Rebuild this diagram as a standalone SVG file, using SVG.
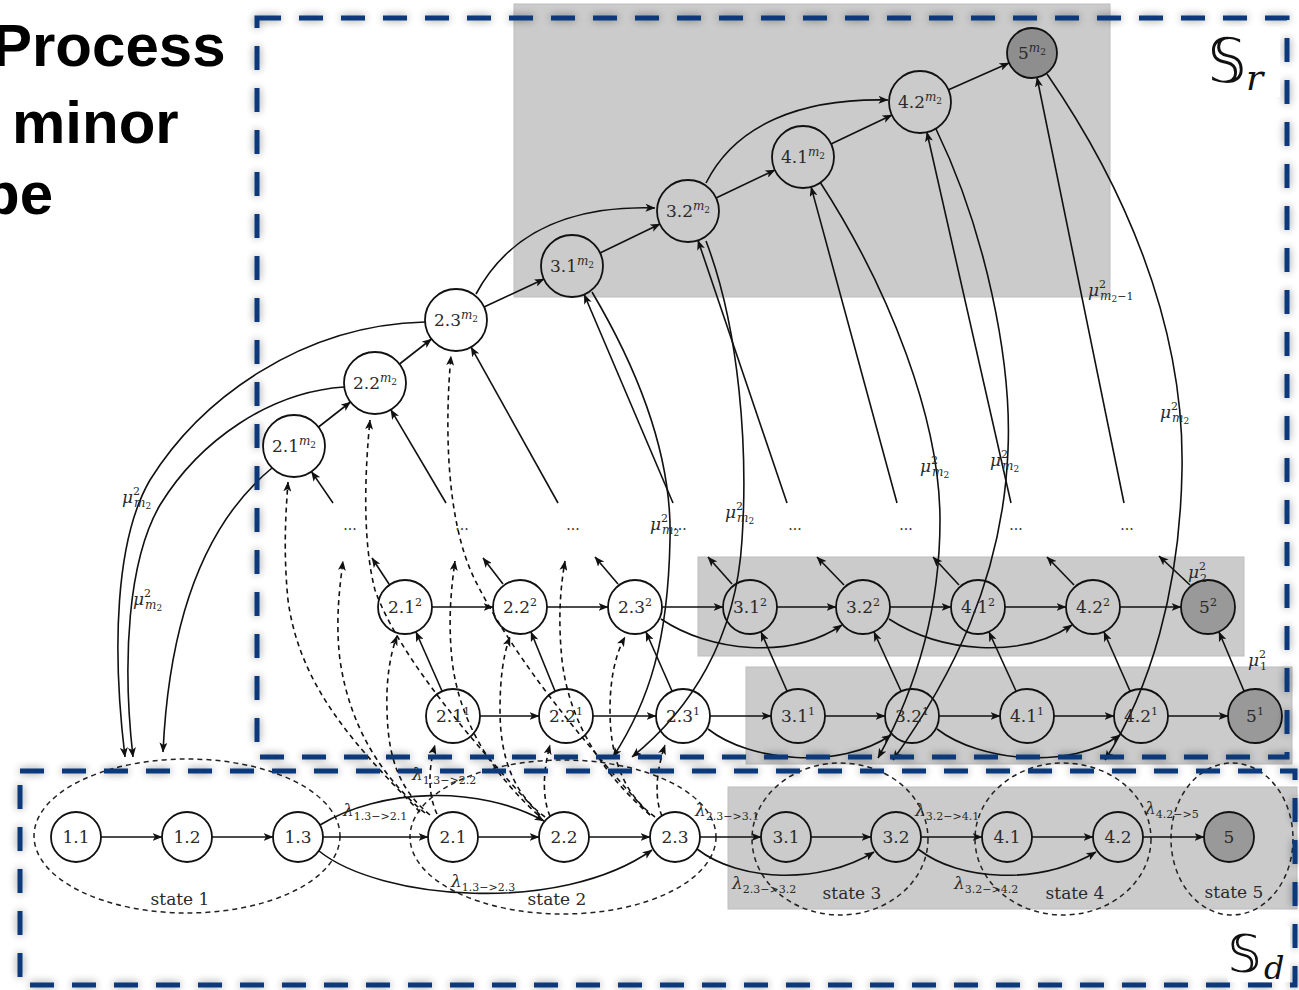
<svg xmlns="http://www.w3.org/2000/svg" width="1299" height="990" viewBox="0 0 1299 990">
  <style>
    .nd circle { fill: none; stroke: #111; stroke-width: 1.8; }
    .nd.fin circle { fill: #999; }
    .nd.top circle { fill: #8e8e8e; }
    .nd text { font-family: "DejaVu Serif", serif; font-size: 17px; fill: #2a2a2a; text-anchor: middle; }
    .e { fill: none; stroke: #111; stroke-width: 1.6; marker-end: url(#ah); }
    .d { fill: none; stroke: #111; stroke-width: 1.6; stroke-dasharray: 5 4; marker-end: url(#ah); }
    .grp { fill: none; stroke: #222; stroke-width: 1.5; stroke-dasharray: 5 4; }
    .zone { fill: #cbcbcb; stroke: #bdbdbd; stroke-width: 1; }
    .frame { fill: none; stroke: #0d3779; stroke-width: 5; stroke-dasharray: 24 18; filter: url(#haze); }
    .lab { font-family: "DejaVu Serif", serif; font-size: 17px; font-style: italic; fill: #2a2a2a; }
    .sm { font-size: 11px; font-style: normal; }
    .smi { font-size: 12px; font-style: italic; }
    .tiny { font-size: 9px; font-style: normal; }
    .txt { font-family: "DejaVu Serif", serif; font-size: 17px; fill: #2a2a2a; text-anchor: middle; }
    .dots { font-family: "DejaVu Serif", serif; font-size: 14px; fill: #333; text-anchor: middle; }
    .title { font-family: "Liberation Sans", Arial, sans-serif; font-size: 60px; font-weight: bold; fill: #000; }
    .set { font-family: "DejaVu Sans", "DejaVu Serif", serif; fill: #111; }
    .setsub { font-family: "DejaVu Serif", serif; font-style: italic; fill: #111; }
  </style>
  <defs>
    <marker id="ah" viewBox="0 0 10 8" refX="9.5" refY="4" markerWidth="10" markerHeight="8" markerUnits="userSpaceOnUse" orient="auto">
      <path d="M0,0 L10,4 L0,8 L2.5,4 z" fill="#111" stroke="none"/>
    </marker>
    <filter id="haze" x="-5%" y="-10%" width="110%" height="120%">
      <feGaussianBlur in="SourceAlpha" stdDeviation="4.5"/>
      <feComponentTransfer><feFuncA type="linear" slope="0.45"/></feComponentTransfer>
      <feMerge><feMergeNode/><feMergeNode in="SourceGraphic"/></feMerge>
    </filter>
  </defs>

  <rect width="1299" height="990" fill="#fff"/>

  <!-- heading fragment -->
  <g id="heading">
    <text class="title" x="-8" y="66">Process</text>
    <text class="title" x="12" y="143">minor</text>
    <text class="title" x="-17" y="214">be</text>
  </g>

  <!-- shaded zones -->
  <g id="zones">
    <rect class="zone" x="514" y="4" width="596" height="293"/>
    <rect class="zone" x="698" y="557" width="546" height="99"/>
    <rect class="zone" x="746" y="667" width="546" height="97"/>
    <rect class="zone" x="728" y="787" width="569" height="122"/>
  </g>

  <!-- state groupings -->
  <g id="states">
    <ellipse class="grp" cx="187" cy="836" rx="153" ry="77"/>
    <ellipse class="grp" cx="563" cy="837" rx="153" ry="77"/>
    <ellipse class="grp" cx="840" cy="839" rx="88" ry="76"/>
    <ellipse class="grp" cx="1063" cy="839" rx="88" ry="76"/>
    <ellipse class="grp" cx="1232" cy="839" rx="61" ry="76"/>
    <text class="txt" x="180" y="905">state 1</text>
    <text class="txt" x="557" y="905">state 2</text>
    <text class="txt" x="852" y="899">state 3</text>
    <text class="txt" x="1075" y="899">state 4</text>
    <text class="txt" x="1234" y="898">state 5</text>
  </g>

  <g id="connectors">
    <!-- base chain -->
    <path class="e" d="M101,837 H162"/>
    <path class="e" d="M212,837 H273"/>
    <path class="e" d="M323,837 H428"/>
    <path class="e" d="M478,837 H539"/>
    <path class="e" d="M589,837 H650"/>
    <path class="e" d="M700,837 H761"/>
    <path class="e" d="M811,837 H871"/>
    <path class="e" d="M921,837 H982"/>
    <path class="e" d="M1032,837 H1093"/>
    <path class="e" d="M1143,837 H1204"/>
    <path class="e" d="M320,825 C380,788 480,785 544,821"/>
    <path class="e" d="M319,851 C380,900 560,915 652,850"/>
    <path class="e" d="M697,849 C740,882 820,885 874,852"/>
    <path class="e" d="M918,849 C960,882 1040,885 1096,852"/>

    <!-- level 1 chain -->
    <path class="e" d="M480,716 H539"/>
    <path class="e" d="M593,716 H656"/>
    <path class="e" d="M710,716 H771"/>
    <path class="e" d="M825,716 H885"/>
    <path class="e" d="M939,716 H1000"/>
    <path class="e" d="M1054,716 H1114"/>
    <path class="e" d="M1168,716 H1228"/>
    <path class="e" d="M708,729 C750,762 840,770 891,735"/>
    <path class="e" d="M937,729 C980,762 1070,770 1120,735"/>

    <!-- level 2 chain -->
    <path class="e" d="M432,607 H493"/>
    <path class="e" d="M547,607 H608"/>
    <path class="e" d="M662,607 H723"/>
    <path class="e" d="M777,607 H836"/>
    <path class="e" d="M890,607 H951"/>
    <path class="e" d="M1005,607 H1066"/>
    <path class="e" d="M1120,607 H1181"/>
    <path class="e" d="M661,619 C710,652 790,660 842,625"/>
    <path class="e" d="M889,619 C940,652 1020,660 1072,625"/>

    <!-- level 1 to level 2 -->
    <path class="e" d="M442,691 L416,632"/>
    <path class="e" d="M555,691 L531,632"/>
    <path class="e" d="M672,691 L646,632"/>
    <path class="e" d="M787,691 L761,632"/>
    <path class="e" d="M901,691 L874,632"/>
    <path class="e" d="M1016,691 L989,632"/>
    <path class="e" d="M1130,691 L1104,632"/>
    <path class="e" d="M1244,691 L1219,632"/>

    <!-- level 2 upwards -->
    <path class="e" d="M389,584 L372,558"/>
    <path class="e" d="M503,584 L483,558"/>
    <path class="e" d="M618,584 L595,557"/>
    <path class="e" d="M732,584 L708,557"/>
    <path class="e" d="M844,585 L817,557"/>
    <path class="e" d="M959,585 L933,557"/>
    <path class="e" d="M1074,585 L1047,557"/>
    <path class="e" d="M1190,585 L1159,556"/>

    <!-- into level m2 -->
    <path class="e" d="M333,503 L311.5,471.6"/>
    <path class="e" d="M446,503 L390.8,409.7"/>
    <path class="e" d="M558,503 L471.1,347.1"/>
    <path class="e" d="M673,503 L584.2,294.5"/>
    <path class="e" d="M787,503 L698,240.4"/>
    <path class="e" d="M897,503 L811.1,186.9"/>
    <path class="e" d="M1011,503 L926.9,132.2"/>
    <path class="e" d="M1124,503 L1037,77.5"/>

    <!-- level m2 chain -->
    <path class="e" d="M318.5,427 L350.5,402"/>
    <path class="e" d="M399.5,364 L431.5,339"/>
    <path class="e" d="M484,307 L544,279"/>
    <path class="e" d="M600,253 L660,224"/>
    <path class="e" d="M716,198 L775,170"/>
    <path class="e" d="M831,144 L892,115"/>
    <path class="e" d="M948,90 L1009,63"/>
    <path class="e" d="M476,294 C505,240 560,205 655,208"/>
    <path class="e" d="M706,183 C735,125 800,98 888,100"/>

    <!-- returns from level m2 -->
    <path class="e" d="M272,468 C215,515 170,600 163,752"/>
    <path class="e" d="M344,387 C270,392 200,440 160,505 C128,560 122,660 133,757"/>
    <path class="e" d="M425,322 C300,325 200,400 150,480 C115,540 112,650 125,757"/>
    <path class="e" d="M592,292 C650,390 672,470 670,540 C668,640 650,700 613,757"/>
    <path class="e" d="M706,241 C740,330 748,450 742,540 C736,640 690,710 632,757"/>
    <path class="e" d="M820,182 C890,290 940,420 940,520 C940,620 910,700 878,758"/>
    <path class="e" d="M936,129 C985,230 1012,360 1008,450 C1003,580 950,680 893,760"/>
    <path class="e" d="M1047,74 C1120,180 1185,320 1182,470 C1180,590 1150,690 1105,760"/>

    <!-- entries from the base states (dashed) -->
    <path class="d" d="M420,812 C360,750 300,690 288,600 C283,550 286,510 288,482"/>
    <path class="d" d="M425,813 C385,780 350,730 340,660 C335,620 340,585 343,561"/>
    <path class="d" d="M430,815 C400,790 388,760 387,710 C386,680 390,655 397,636"/>
    <path class="d" d="M437,814 C428,795 428,770 435,745"/>
    <path class="d" d="M540,815 C480,750 400,660 375,590 C362,540 365,470 370,420"/>
    <path class="d" d="M538,815 C500,780 460,730 452,660 C448,620 451,590 455,561"/>
    <path class="d" d="M545,817 C515,795 500,760 500,710 C500,680 503,655 510,637"/>
    <path class="d" d="M550,816 C543,800 542,775 550,745"/>
    <path class="d" d="M650,815 C600,760 520,670 475,580 C445,520 445,420 451,356"/>
    <path class="d" d="M650,815 C610,780 570,730 562,660 C558,620 560,590 565,561"/>
    <path class="d" d="M655,817 C625,795 610,760 610,710 C610,680 615,655 625,637"/>
    <path class="d" d="M662,816 C655,800 655,775 665,745"/>
  </g>

  <!-- base nodes -->
  <g id="n-1-1" class="nd"><circle cx="76" cy="837" r="25"/><text x="76" y="843">1.1</text></g>
  <g id="n-1-2" class="nd"><circle cx="187" cy="837" r="25"/><text x="187" y="843">1.2</text></g>
  <g id="n-1-3" class="nd"><circle cx="298" cy="837" r="25"/><text x="298" y="843">1.3</text></g>
  <g id="n-2-1" class="nd"><circle cx="453" cy="837" r="25"/><text x="453" y="843">2.1</text></g>
  <g id="n-2-2" class="nd"><circle cx="564" cy="837" r="25"/><text x="564" y="843">2.2</text></g>
  <g id="n-2-3" class="nd"><circle cx="675" cy="837" r="25"/><text x="675" y="843">2.3</text></g>
  <g id="n-3-1" class="nd"><circle cx="786" cy="837" r="25"/><text x="786" y="843">3.1</text></g>
  <g id="n-3-2" class="nd"><circle cx="896" cy="837" r="25"/><text x="896" y="843">3.2</text></g>
  <g id="n-4-1" class="nd"><circle cx="1007" cy="837" r="25"/><text x="1007" y="843">4.1</text></g>
  <g id="n-4-2" class="nd"><circle cx="1118" cy="837" r="25"/><text x="1118" y="843">4.2</text></g>
  <g id="n-5" class="nd fin"><circle cx="1229" cy="837" r="25"/><text x="1229" y="843">5</text></g>

  <!-- level 1 nodes -->
  <g id="n-2-1-l1" class="nd"><circle cx="453" cy="716" r="27"/><text x="453" y="722">2.1<tspan class="sm" dy="-7">1</tspan></text></g>
  <g id="n-2-2-l1" class="nd"><circle cx="566" cy="716" r="27"/><text x="566" y="722">2.2<tspan class="sm" dy="-7">1</tspan></text></g>
  <g id="n-2-3-l1" class="nd"><circle cx="683" cy="716" r="27"/><text x="683" y="722">2.3<tspan class="sm" dy="-7">1</tspan></text></g>
  <g id="n-3-1-l1" class="nd"><circle cx="798" cy="716" r="27"/><text x="798" y="722">3.1<tspan class="sm" dy="-7">1</tspan></text></g>
  <g id="n-3-2-l1" class="nd"><circle cx="912" cy="716" r="27"/><text x="912" y="722">3.2<tspan class="sm" dy="-7">1</tspan></text></g>
  <g id="n-4-1-l1" class="nd"><circle cx="1027" cy="716" r="27"/><text x="1027" y="722">4.1<tspan class="sm" dy="-7">1</tspan></text></g>
  <g id="n-4-2-l1" class="nd"><circle cx="1141" cy="716" r="27"/><text x="1141" y="722">4.2<tspan class="sm" dy="-7">1</tspan></text></g>
  <g id="n-5-l1" class="nd fin"><circle cx="1255" cy="716" r="27"/><text x="1255" y="722">5<tspan class="sm" dy="-7">1</tspan></text></g>

  <!-- level 2 nodes -->
  <g id="n-2-1-l2" class="nd"><circle cx="405" cy="607" r="27"/><text x="405" y="613">2.1<tspan class="sm" dy="-7">2</tspan></text></g>
  <g id="n-2-2-l2" class="nd"><circle cx="520" cy="607" r="27"/><text x="520" y="613">2.2<tspan class="sm" dy="-7">2</tspan></text></g>
  <g id="n-2-3-l2" class="nd"><circle cx="635" cy="607" r="27"/><text x="635" y="613">2.3<tspan class="sm" dy="-7">2</tspan></text></g>
  <g id="n-3-1-l2" class="nd"><circle cx="750" cy="607" r="27"/><text x="750" y="613">3.1<tspan class="sm" dy="-7">2</tspan></text></g>
  <g id="n-3-2-l2" class="nd"><circle cx="863" cy="607" r="27"/><text x="863" y="613">3.2<tspan class="sm" dy="-7">2</tspan></text></g>
  <g id="n-4-1-l2" class="nd"><circle cx="978" cy="607" r="27"/><text x="978" y="613">4.1<tspan class="sm" dy="-7">2</tspan></text></g>
  <g id="n-4-2-l2" class="nd"><circle cx="1093" cy="607" r="27"/><text x="1093" y="613">4.2<tspan class="sm" dy="-7">2</tspan></text></g>
  <g id="n-5-l2" class="nd fin"><circle cx="1208" cy="607" r="27"/><text x="1208" y="613">5<tspan class="sm" dy="-7">2</tspan></text></g>

  <!-- level m2 nodes -->
  <g id="n-2-1-lm" class="nd"><circle cx="294" cy="446" r="31"/><text x="294" y="452">2.1<tspan class="smi" dy="-7">m</tspan><tspan class="tiny" dy="3">2</tspan></text></g>
  <g id="n-2-2-lm" class="nd"><circle cx="375" cy="383" r="31"/><text x="375" y="389">2.2<tspan class="smi" dy="-7">m</tspan><tspan class="tiny" dy="3">2</tspan></text></g>
  <g id="n-2-3-lm" class="nd"><circle cx="456" cy="320" r="31"/><text x="456" y="326">2.3<tspan class="smi" dy="-7">m</tspan><tspan class="tiny" dy="3">2</tspan></text></g>
  <g id="n-3-1-lm" class="nd"><circle cx="572" cy="266" r="31"/><text x="572" y="272">3.1<tspan class="smi" dy="-7">m</tspan><tspan class="tiny" dy="3">2</tspan></text></g>
  <g id="n-3-2-lm" class="nd"><circle cx="688" cy="211" r="31"/><text x="688" y="217">3.2<tspan class="smi" dy="-7">m</tspan><tspan class="tiny" dy="3">2</tspan></text></g>
  <g id="n-4-1-lm" class="nd"><circle cx="803" cy="157" r="31"/><text x="803" y="163">4.1<tspan class="smi" dy="-7">m</tspan><tspan class="tiny" dy="3">2</tspan></text></g>
  <g id="n-4-2-lm" class="nd"><circle cx="920" cy="102" r="31"/><text x="920" y="108">4.2<tspan class="smi" dy="-7">m</tspan><tspan class="tiny" dy="3">2</tspan></text></g>
  <g id="n-5-lm" class="nd top"><circle cx="1032" cy="53" r="25"/><text x="1032" y="59">5<tspan class="smi" dy="-7">m</tspan><tspan class="tiny" dy="3">2</tspan></text></g>

  <!-- intermediate levels -->
  <g id="ellipsis">
    <text class="dots" x="350" y="530">...</text>
    <text class="dots" x="462" y="530">...</text>
    <text class="dots" x="573" y="530">...</text>
    <text class="dots" x="680" y="530">...</text>
    <text class="dots" x="795" y="530">...</text>
    <text class="dots" x="906" y="530">...</text>
    <text class="dots" x="1016" y="530">...</text>
    <text class="dots" x="1127" y="530">...</text>
  </g>

  <!-- rate labels -->
  <g id="rates">
    <text class="lab" x="122" y="503">μ<tspan class="sm" dy="-8">2</tspan><tspan class="smi" dx="-6" dy="12">m</tspan><tspan class="tiny" dy="2">2</tspan></text>
    <text class="lab" x="133" y="605">μ<tspan class="sm" dy="-8">2</tspan><tspan class="smi" dx="-6" dy="12">m</tspan><tspan class="tiny" dy="2">2</tspan></text>
    <text class="lab" x="650" y="530">μ<tspan class="sm" dy="-8">2</tspan><tspan class="smi" dx="-6" dy="12">m</tspan><tspan class="tiny" dy="2">2</tspan></text>
    <text class="lab" x="725" y="518">μ<tspan class="sm" dy="-8">2</tspan><tspan class="smi" dx="-6" dy="12">m</tspan><tspan class="tiny" dy="2">2</tspan></text>
    <text class="lab" x="920" y="472">μ<tspan class="sm" dy="-8">2</tspan><tspan class="smi" dx="-6" dy="12">m</tspan><tspan class="tiny" dy="2">2</tspan></text>
    <text class="lab" x="990" y="466">μ<tspan class="sm" dy="-8">2</tspan><tspan class="smi" dx="-6" dy="12">m</tspan><tspan class="tiny" dy="2">2</tspan></text>
    <text class="lab" x="1160" y="418">μ<tspan class="sm" dy="-8">2</tspan><tspan class="smi" dx="-6" dy="12">m</tspan><tspan class="tiny" dy="2">2</tspan></text>
    <text class="lab" x="1088" y="296">μ<tspan class="sm" dy="-8">2</tspan><tspan class="smi" dx="-6" dy="12">m</tspan><tspan class="tiny" dy="2">2</tspan><tspan class="sm" dy="-2">−1</tspan></text>
    <text class="lab" x="1188" y="578">μ<tspan class="sm" dy="-8">2</tspan><tspan class="sm" dx="-6" dy="12">2</tspan></text>
    <text class="lab" x="1248" y="666">μ<tspan class="sm" dy="-8">2</tspan><tspan class="sm" dx="-6" dy="12">1</tspan></text>
    <text class="lab" x="343" y="816">λ<tspan class="sm" dy="4">1.3−&gt;2.1</tspan></text>
    <text class="lab" x="412" y="780">λ<tspan class="sm" dy="4">1.3−&gt;2.2</tspan></text>
    <text class="lab" x="451" y="887">λ<tspan class="sm" dy="4">1.3−&gt;2.3</tspan></text>
    <text class="lab" x="695" y="816">λ<tspan class="sm" dy="4">2.3−&gt;3.1</tspan></text>
    <text class="lab" x="732" y="889">λ<tspan class="sm" dy="4">2.3−&gt;3.2</tspan></text>
    <text class="lab" x="915" y="816">λ<tspan class="sm" dy="4">3.2−&gt;4.1</tspan></text>
    <text class="lab" x="954" y="889">λ<tspan class="sm" dy="4">3.2−&gt;4.2</tspan></text>
    <text class="lab" x="1145" y="814">λ<tspan class="sm" dy="4">4.2−&gt;5</tspan></text>
  </g>

  <!-- set frames -->
  <g id="frames">
    <rect class="frame" x="257" y="18" width="1030" height="739"/>
    <rect class="frame" x="20" y="771" width="1275" height="214"/>
    <rect x="1200" y="27" width="80" height="70" fill="#fff"/>
    <text class="set" x="1208" y="82" font-size="60">𝕊</text>
    <text class="setsub" x="1246" y="90" font-size="36">r</text>
    <rect x="1228" y="926" width="62" height="56" fill="#fff"/>
    <text class="set" x="1228" y="972" font-size="52">𝕊</text>
    <text class="setsub" x="1264" y="979" font-size="32">d</text>
  </g>
</svg>
